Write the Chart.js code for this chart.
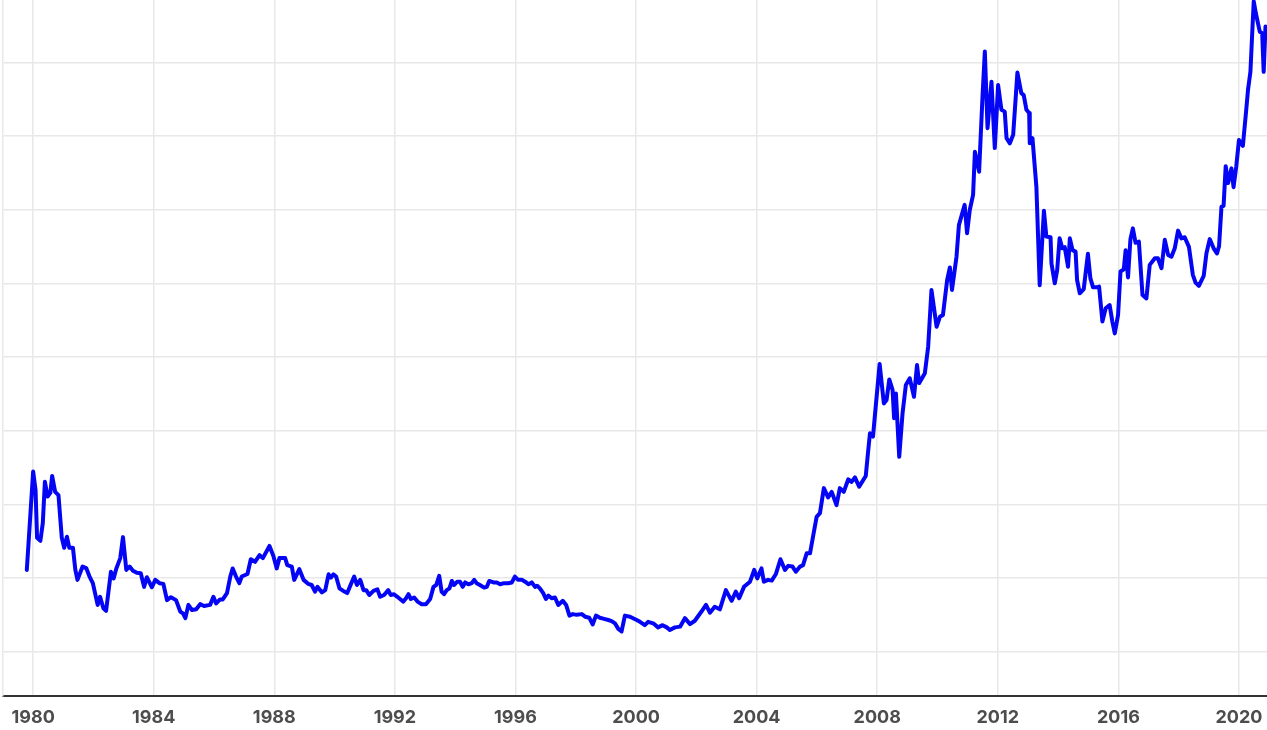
<!DOCTYPE html>
<html>
<head>
<meta charset="utf-8">
<script src="https://cdn.jsdelivr.net/npm/chart.js@4.4.1/dist/chart.umd.min.js"></script>
<style>
  html, body { margin: 0; padding: 0; background: #fff; }
  #wrap { width: 1267px; height: 730px; position: relative; }
</style>
</head>
<body>
<div id="wrap"><canvas id="gold"></canvas></div>
<script>
// Price line: decimal year -> price (USD/oz, approx.)
const years = [
  1979.79,1980.00,1980.08,1980.13,1980.24,1980.32,1980.39,1980.48,1980.57,1980.63,
  1980.73,1980.84,1980.95,1981.03,1981.12,1981.20,1981.32,1981.40,1981.47,1981.64,
  1981.76,1981.87,1981.98,1982.14,1982.22,1982.33,1982.42,1982.58,1982.67,1982.76,
  1982.89,1982.98,1983.09,1983.20,1983.31,1983.44,1983.57,1983.68,1983.77,1983.94,
  1984.05,1984.19,1984.32,1984.44,1984.57,1984.74,1984.88,1984.97,1985.05,1985.15,
  1985.27,1985.41,1985.54,1985.67,1985.87,1985.98,1986.07,1986.20,1986.29,1986.43,
  1986.54,1986.62,1986.73,1986.84,1986.92,1987.11,1987.22,1987.36,1987.51,1987.62,
  1987.84,1987.97,1988.08,1988.17,1988.36,1988.43,1988.58,1988.66,1988.83,1988.97,
  1989.13,1989.24,1989.35,1989.43,1989.58,
  1989.69,1989.80,1989.88,1989.96,1990.05,1990.16,1990.29,1990.42,1990.54,1990.65,
  1990.74,1990.85,1990.96,1991.05,1991.15,1991.29,1991.42,1991.51,1991.64,1991.78,
  1991.86,1991.97,1992.08,1992.17,1992.28,1992.37,1992.45,1992.53,1992.64,1992.75,
  1992.89,1993.03,1993.17,1993.28,1993.37,1993.47,1993.55,1993.63,1993.72,1993.81,
  1993.89,1993.96,1994.07,1994.16,1994.25,1994.33,1994.44,1994.55,1994.63,1994.71,
  1994.82,1994.96,1995.05,1995.13,1995.27,1995.38,1995.49,1995.62,1995.76,1995.88,
  1995.98,1996.09,1996.21,1996.32,1996.43,1996.54,1996.65,1996.72,1996.81,1996.92,
  1997.01,1997.09,1997.20,1997.31,1997.42,1997.57,1997.68,1997.79,1997.90,1998.03,
  1998.20,1998.31,1998.45,1998.56,1998.67,1998.80,1998.94,1999.08,1999.19,1999.30,
  1999.41,1999.52,1999.63,1999.80,
  2000.02,2000.13,2000.29,2000.40,2000.57,2000.73,2000.88,2001.02,2001.12,2001.29,
  2001.46,2001.62,2001.79,2001.95,2002.17,2002.32,2002.45,2002.61,2002.78,2002.98,
  2003.17,2003.31,2003.42,2003.58,2003.78,2003.92,2004.02,2004.16,2004.24,2004.38,
  2004.50,2004.64,2004.79,2004.94,2005.05,2005.19,2005.30,2005.44,2005.54,2005.66,
  2005.77,2005.87,2005.99,2006.10,2006.23,2006.37,2006.49,2006.65,2006.76,2006.89,
  2007.04,2007.15,2007.26,2007.40,2007.62,
  2007.70,2007.76,2007.86,2007.98,2008.08,2008.22,2008.31,2008.40,2008.51,2008.56,
  2008.62,2008.73,2008.84,2008.95,2009.08,2009.22,2009.32,2009.39,2009.58,2009.69,
  2009.80,2009.97,2010.08,2010.18,2010.32,2010.41,2010.48,2010.63,2010.71,2010.90,
  2010.98,2011.07,2011.18,2011.24,2011.38,2011.49,2011.57,2011.66,2011.79,2011.90,
  2012.01,2012.12,2012.23,2012.29,2012.40,2012.51,2012.65,2012.78,2012.86,2012.95,
  2013.04,2013.06,2013.15,2013.28,2013.39,2013.53,2013.61,2013.75,2013.78,2013.89,
  2013.97,2014.05,2014.14,2014.22,2014.33,2014.39,2014.48,2014.58,2014.63,2014.72,
  2014.85,2014.99,2015.07,2015.16,2015.29,2015.36,2015.47,2015.58,2015.71,2015.80,
  2015.88,2015.99,2016.07,2016.18,2016.24,2016.32,2016.40,2016.48,2016.57,2016.68,
  2016.80,2016.93,2017.04,2017.21,2017.31,2017.43,2017.54,2017.65,2017.76,2017.87,
  2017.98,2018.09,2018.20,2018.34,2018.47,2018.56,2018.67,2018.83,2018.92,2019.03,
  2019.16,2019.27,2019.34,2019.42,2019.49,2019.56,2019.64,2019.75,2019.82,2019.91,
  2020.00,2020.13,2020.25,2020.30,2020.38,2020.45,2020.49,2020.56,2020.69,2020.77,
  2020.82,2020.88
];

const prices = [
  422,689,639,509,501,549,661,621,631,677,
  634,625,509,482,512,482,482,422,395,431,
  427,404,386,327,349,318,311,417,399,426,
  454,511,422,431,420,414,413,376,402,375,
  395,386,384,340,348,340,309,304,291,327,
  313,315,329,324,327,349,331,342,342,359,
  404,426,404,386,404,411,451,444,462,454,
  487,460,426,454,454,435,431,395,424,395,
  384,381,363,376,361,
  367,410,401,410,404,372,365,359,383,404,
  381,395,367,367,354,365,369,349,354,367,
  354,356,349,343,336,345,356,343,347,336,
  329,329,343,376,381,406,363,356,367,372,
  392,381,390,390,376,388,383,386,395,386,
  381,374,376,392,388,388,383,386,386,388,
  404,395,395,390,383,388,376,379,372,359,
  343,352,345,347,327,338,327,298,302,300,
  302,295,292,274,298,292,289,286,283,277,
  262,255,298,295,
  286,281,272,281,277,266,272,266,259,266,
  268,291,275,284,309,327,306,322,315,367,
  338,363,345,376,390,422,399,426,390,395,
  393,411,451,422,433,431,417,431,435,467,
  467,512,566,576,644,619,634,598,644,634,
  668,661,673,648,677,
  745,793,784,892,981,874,883,939,910,834,
  901,729,847,924,942,892,978,929,956,1028,
  1182,1082,1109,1114,1209,1243,1182,1272,1358,1413,
  1336,1399,1440,1557,1503,1702,1829,1621,1747,1567,
  1738,1671,1666,1594,1580,1603,1772,1716,1711,1671,
  1662,1580,1594,1462,1195,1397,1327,1325,1254,1200,
  1236,1322,1295,1298,1245,1322,1290,1286,1209,1173,
  1184,1280,1214,1189,1189,1191,1096,1132,1141,1096,
  1064,1114,1232,1238,1290,1216,1320,1349,1310,1313,
  1168,1159,1250,1268,1268,1241,1318,1277,1272,1295,
  1343,1322,1325,1299,1223,1202,1193,1220,1281,1320,
  1295,1281,1301,1408,1410,1518,1472,1512,1461,1517,
  1589,1573,1679,1725,1774,1897,1965,1933,1883,1879,
  1774,1897
];

const tickYears = [1980, 1984, 1988, 1992, 1996, 2000, 2004, 2008, 2012, 2016, 2020];
const gridPrices = [200, 400, 600, 800, 1000, 1200, 1400, 1600, 1800];

const points = years.map((yr, i) => ({ x: yr, y: prices[i] }));

new Chart(document.getElementById('gold'), {
  type: 'line',
  data: {
    datasets: [{
      data: points,
      borderColor: '#0505f5',
      borderWidth: 4,
      pointRadius: 0,
      tension: 0,
      borderJoinStyle: 'round',
      borderCapStyle: 'round',
      fill: false
    }]
  },
  options: {
    responsive: true,
    maintainAspectRatio: false,
    animation: false,
    // tall label line box puts the years low; pull the bottom back to the canvas edge
    layout: { padding: { left: 3, right: 0, top: 0, bottom: -10 } },
    plugins: {
      legend: { display: false },
      tooltip: { enabled: false }
    },
    scales: {
      x: {
        type: 'linear',
        min: 1979.0,
        max: 2020.93,
        afterBuildTicks: s => { s.ticks = tickYears.map(v => ({ value: v })); },
        grid: { color: '#e8e8e8', lineWidth: 1.5, drawTicks: false },
        border: { color: '#333', width: 2 },
        ticks: {
          padding: 0,
          color: '#4d4d4d',
          font: { family: 'Inter', size: 18, weight: '700', lineHeight: 2.45 },
          callback: v => String(v),
          maxRotation: 0
        }
      },
      y: {
        min: 80,
        max: 1969,
        afterBuildTicks: s => { s.ticks = gridPrices.map(v => ({ value: v })); },
        grid: { color: '#e8e8e8', lineWidth: 1.5, drawTicks: false },
        border: { color: '#e8e8e8', width: 1.5 },
        ticks: { display: false }
      }
    }
  }
});
</script>
</body>
</html>
